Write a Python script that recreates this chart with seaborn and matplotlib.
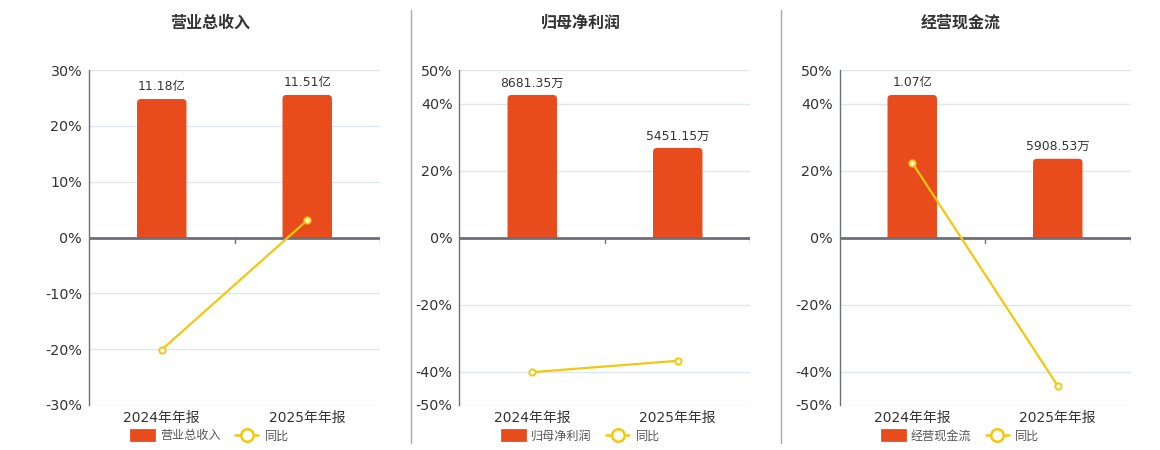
import matplotlib
matplotlib.use("Agg")
import matplotlib.pyplot as plt
from matplotlib.patches import FancyBboxPatch, Rectangle, Patch
from matplotlib.lines import Line2D
import seaborn as sns
import numpy as np
import pandas as pd

# data
periods = ["2024年年报", "2025年年报"]
titles = ["营业总收入", "归母净利润", "经营现金流"]
amounts_wan = [
    [111800.0, 115100.0],
    [8681.35, 5451.15],
    [10700.0, 5908.53],
]
amount_labels = [
    ["11.18亿", "11.51亿"],
    ["8681.35万", "5451.15万"],
    ["1.07亿", "5908.53万"],
]
yoy_pct = [
    [-20.1, 3.1],
    [-40.2, -36.8],
    [22.3, -44.3],
]
pct_ticks = [
    [-30, -20, -10, 0, 10, 20, 30],
    [-50, -40, -20, 0, 20, 40, 50],
    [-50, -40, -20, 0, 20, 40, 50],
]

BAR = "#E84C1D"
LINE = "#F2C80F"
AXIS = "#6E7079"
GRID = "#E0E6F1"
TXT = "#333333"

sns.set_theme(style="white")
plt.rcParams["font.family"] = ["DejaVu Sans", "Noto Sans CJK SC"]
plt.rcParams["axes.unicode_minus"] = False

fig = plt.figure(figsize=(11.6, 4.5), dpi=100)

lefts = [89, 459.5, 839.5]
ax_w = 291
ax_bottom, ax_top = 405, 70
title_x = [210, 581, 960.5]

for i in range(3):
    ax = fig.add_axes([lefts[i] / 1160, 1 - ax_bottom / 450, ax_w / 1160, (ax_bottom - ax_top) / 450])
    lo, hi = pct_ticks[i][0], pct_ticks[i][-1]
    ax.set_ylim(lo, hi)
    ax.set_xlim(-0.5, 1.5)
    ax.set_yticks(pct_ticks[i])
    ax.set_yticklabels([f"{t}%" for t in pct_ticks[i]], fontsize=10.3, color=TXT)
    ax.set_xticks(range(len(periods)))
    ax.set_xticklabels(periods, fontsize=10, color=TXT)
    ax.tick_params(axis="both", length=0, pad=5)
    ax.tick_params(axis="x", pad=4)
    for t in pct_ticks[i]:
        if t != 0:
            ax.axhline(t, color=GRID, lw=1, zorder=0)
    for s in ["top", "right", "bottom"]:
        ax.spines[s].set_visible(False)
    ax.spines["left"].set_color(AXIS)
    ax.spines["left"].set_linewidth(1)

    # bars on their own scale
    axb = ax.twinx()
    top = max(amounts_wan[i]) * 1.175
    axb.set_ylim(-top, top)
    df = pd.DataFrame({"period": periods, "amount": amounts_wan[i]})
    sns.barplot(data=df, x="period", y="amount", ax=axb, color=BAR,
                width=0.34, saturation=1, edgecolor="none")
    axb.set_xlim(-0.5, 1.5)
    axb.axis("off")
    # round the bar tops
    rx = 4 / 145.5
    ry = 2 * top / 335 * 4
    clip = Rectangle((-0.5, 0), 2, top, transform=axb.transData)
    for p in list(axb.patches):
        x, w, h = p.get_x(), p.get_width(), p.get_height()
        p.set_visible(False)
        fb = FancyBboxPatch((x, -ry), w, h + ry, boxstyle=f"round,pad=0,rounding_size={rx}",
                            mutation_aspect=ry / rx, facecolor=BAR, edgecolor="none", zorder=2)
        axb.add_patch(fb)
        fb.set_clip_path(clip)
    axb.bar_label(axb.containers[0], labels=amount_labels[i], padding=4,
                  fontsize=8.9, color=TXT)
    axb.axhline(0, color=AXIS, lw=2, zorder=5)
    for xt in [0.5, 1.5]:
        axb.plot([xt, xt], [0, -top * 0.03], color=AXIS, lw=1, zorder=5)

    # yoy line
    axl = ax.twinx()
    axl.set_ylim(lo, hi)
    sns.lineplot(x=list(range(len(periods))), y=yoy_pct[i], ax=axl, color=LINE, lw=1.6,
                 marker="o", markersize=4.5, markerfacecolor="white",
                 markeredgecolor=LINE, markeredgewidth=1.4, zorder=6)
    axl.set_xlim(-0.5, 1.5)
    axl.axis("off")

    fig.text(title_x[i] / 1160, 1 - 23 / 450, titles[i], ha="center", va="center",
             fontsize=11.5, fontweight="bold", color=TXT)

    handles = [
        Patch(facecolor=BAR, edgecolor=BAR, linewidth=2, joinstyle="round"),
        Line2D([0], [0], color=LINE, lw=1.8, marker="o", markersize=9,
               markerfacecolor="white", markeredgecolor=LINE, markeredgewidth=1.8),
    ]
    fig.legend(handles, [titles[i], "同比"], loc="center", ncol=2,
               bbox_to_anchor=(title_x[i] / 1160, 1 - 436 / 450), frameon=False,
               fontsize=8.7, labelcolor="#555555", handlelength=1.9, handleheight=0.9,
               handletextpad=0.5, columnspacing=1.2)

for sx in [410.5, 781]:
    fig.add_artist(Line2D([sx / 1160, sx / 1160], [1 - 10 / 450, 1 - 443 / 450],
                          color="#AAAAAA", lw=1))

fig.savefig("out.png", dpi=100)
